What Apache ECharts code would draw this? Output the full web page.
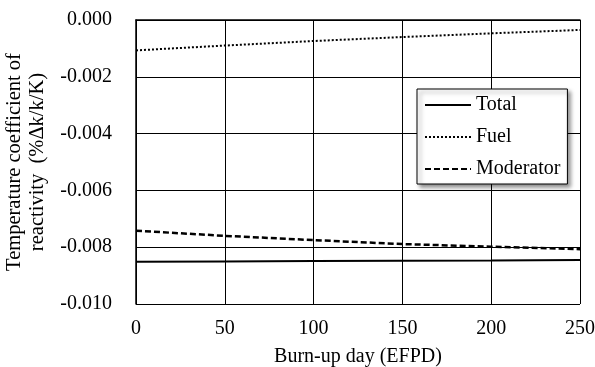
<!DOCTYPE html>
<html>
<head>
<meta charset="utf-8">
<script src="https://cdn.jsdelivr.net/npm/echarts@6/dist/echarts.min.js"></script>
<style>
  html, body { margin: 0; padding: 0; background: #fff; }
  #chart { width: 595px; height: 367px; }
</style>
</head>
<body>
<div id="chart"></div>
<script>
// burn-up days (EFPD)
const days = [0, 50, 100, 150, 200, 250];
// temperature coefficients (%Δk/k/K)
const total = [-0.00851, -0.00850, -0.00849, -0.00848, -0.00847, -0.00845];
const fuel = [-0.00107, -0.00090, -0.00074, -0.00060, -0.00047, -0.00035];
const moderator = [-0.00742, -0.00760, -0.00775, -0.00789, -0.00798, -0.00807];

const font = "'Liberation Serif', 'Times New Roman', serif";
const pairs = ys => days.map((d, i) => [d, ys[i]]);

const chart = echarts.init(document.getElementById('chart'));
chart.setOption({
    animation: false,
    textStyle: { fontFamily: font, color: '#000' },
    grid: { left: 136, right: 15, top: 20, bottom: 63, containLabel: false, outerBoundsMode: 'none' },
    legend: {
        orient: 'vertical',
        left: 417,
        top: 89,
        width: 150,
        padding: [6, 7, 5, 7],
        itemWidth: 46,
        itemHeight: 10,
        itemGap: 12,
        backgroundColor: '#fff',
        borderColor: '#000',
        borderWidth: 1,
        borderRadius: 0,
        shadowBlur: 4,
        shadowColor: 'rgba(0,0,0,0.45)',
        shadowOffsetX: 3,
        shadowOffsetY: 3,
        itemStyle: { opacity: 0 },
        textStyle: { fontFamily: font, fontSize: 20, color: '#000' },
        data: ['Total', 'Fuel', 'Moderator']
    },
    xAxis: {
        type: 'value',
        min: 0,
        max: 250,
        interval: 50,
        name: 'Burn-up day (EFPD)',
        nameLocation: 'middle',
        nameGap: 43,
        nameTextStyle: { fontFamily: font, fontSize: 20, color: '#000' },
        axisLine: { lineStyle: { color: '#000', width: 1.5 } },
        axisTick: { show: false },
        axisLabel: { fontFamily: font, fontSize: 20, color: '#000', margin: 15 },
        splitLine: { show: true, lineStyle: { color: '#000', width: 1 } }
    },
    yAxis: {
        type: 'value',
        min: -0.010,
        max: 0,
        interval: 0.002,
        name: 'Temperature coefficient of\nreactivity  (%Δk/k/K)',
        nameLocation: 'middle',
        nameRotate: 90,
        nameGap: 75,
        nameTextStyle: { fontFamily: font, fontSize: 20.5, color: '#000', lineHeight: 23 },
        axisLine: { show: true, lineStyle: { color: '#000', width: 1.5 } },
        axisTick: { show: false },
        axisLabel: {
            fontFamily: font, fontSize: 20, color: '#000', margin: 24,
            formatter: v => v.toFixed(3)
        },
        splitLine: { show: true, lineStyle: { color: '#000', width: 1 } }
    },
    series: [
        {
            name: 'Total',
            type: 'line',
            symbol: 'none',
            lineStyle: { color: '#000', width: 2, type: 'solid' },
            itemStyle: { color: '#000' },
            data: pairs(total)
        },
        {
            name: 'Fuel',
            type: 'line',
            symbol: 'none',
            lineStyle: { color: '#000', width: 2, type: [2, 2] },
            itemStyle: { color: '#000' },
            data: pairs(fuel)
        },
        {
            name: 'Moderator',
            type: 'line',
            symbol: 'none',
            lineStyle: { color: '#000', width: 2.5, type: [6, 3] },
            itemStyle: { color: '#000' },
            data: pairs(moderator)
        }
    ]
});
</script>
</body>
</html>
